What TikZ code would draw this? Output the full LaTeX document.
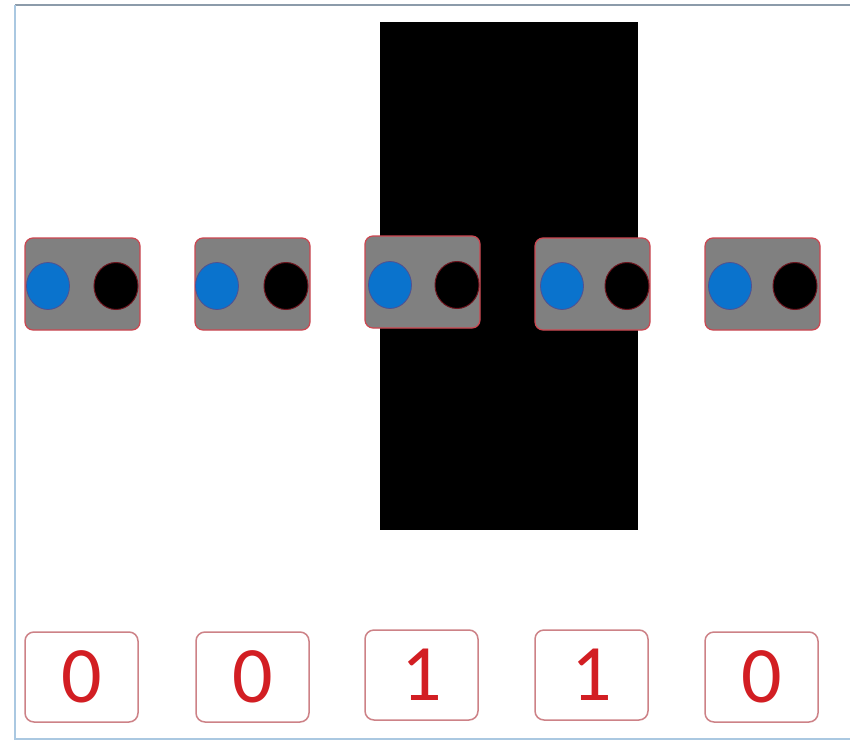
\documentclass[tikz,border=0pt]{standalone}
\usepackage{fontspec}
\setmainfont{Carlito}
\usetikzlibrary{shapes.geometric}
\definecolor{frameblue}{RGB}{170,200,225}
\definecolor{frametop}{RGB}{140,155,170}
\definecolor{boxgray}{RGB}{128,128,128}
\definecolor{boxred}{RGB}{205,70,80}
\definecolor{dotblue}{RGB}{10,115,205}
\definecolor{dotedge}{RGB}{110,20,30}
\definecolor{numedge}{RGB}{205,130,135}
\definecolor{numred}{RGB}{210,30,35}
\tikzset{
  cell/.style={draw=boxred, line width=1.2pt, fill=boxgray, rounded corners=8pt, minimum width=115pt, minimum height=92pt, inner sep=0pt},
  bluedot/.style={ellipse, fill=dotblue, draw=dotblue!70!red, line width=0.8pt, minimum width=43pt, minimum height=47pt, inner sep=0pt},
  blackdot/.style={ellipse, fill=black, draw=dotedge, line width=1pt, minimum width=44pt, minimum height=47pt, inner sep=0pt},
  numbox/.style={draw=numedge, line width=1.5pt, fill=white, rounded corners=9pt, minimum width=113pt, minimum height=90pt, inner sep=0pt, text=numred, font=\fontsize{80}{80}\selectfont},
}
\begin{document}
\begin{tikzpicture}[x=1pt,y=-1pt]
\useasboundingbox (0,0) rectangle (850,741);
\fill[white] (0,0) rectangle (850,741);
\draw[frametop, line width=2pt] (15,5) -- (850,5);
\draw[frameblue, line width=2pt] (15,5) -- (15,739) -- (850,739);
\fill[black] (380,22) rectangle (638,530);
\node[cell] (c1) at (82.5,284) {};
\node[cell] (c2) at (252.5,284) {};
\node[cell] (c3) at (422.5,282) {};
\node[cell] (c4) at (592.5,284) {};
\node[cell] (c5) at (762.5,284) {};
\node[bluedot] (b1) at (48,286) {};
\node[blackdot] (k1) at (116,286) {};
\node[bluedot] (b2) at (217,286) {};
\node[blackdot] (k2) at (286,286) {};
\node[bluedot] (b3) at (390,285) {};
\node[blackdot] (k3) at (457,285) {};
\node[bluedot] (b4) at (562,286) {};
\node[blackdot] (k4) at (627,286) {};
\node[bluedot] (b5) at (730,286) {};
\node[blackdot] (k5) at (795,286) {};
\node[numbox] (n1) at (81.5,677) {0};
\node[numbox] (n2) at (252.5,677) {0};
\node[numbox] (n3) at (421.5,675) {1};
\node[numbox] (n4) at (591.5,675) {1};
\node[numbox] (n5) at (761.5,677) {0};
\end{tikzpicture}
\end{document}
